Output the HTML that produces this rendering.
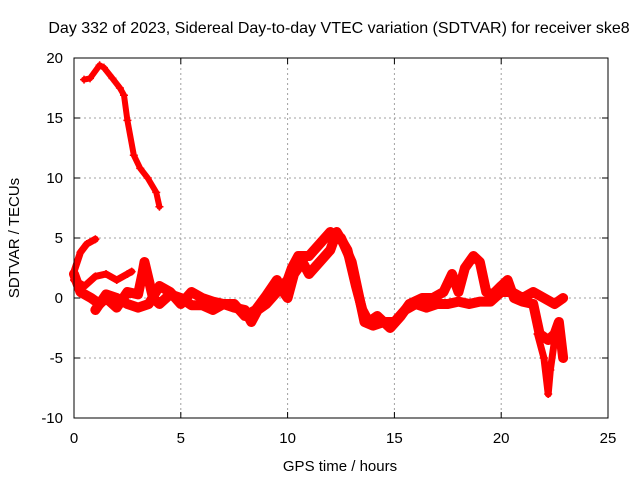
<!DOCTYPE html>
<html><head><meta charset="utf-8"><style>
body{margin:0;background:#fff;}
svg{display:block;font-family:"Liberation Sans",sans-serif;}
</style></head><body>
<svg id="chart" width="640" height="480">
<text x="339" y="33" font-size="16" text-anchor="middle">Day 332 of 2023, Sidereal Day-to-day VTEC variation (SDTVAR) for receiver ske8</text>
<text x="340" y="471" font-size="15" text-anchor="middle">GPS time / hours</text>
<text x="19" y="238" font-size="15" text-anchor="middle" transform="rotate(-90 19 238)">SDTVAR / TECUs</text>
<g id="grid"></g><g id="marks"></g><g id="axes"></g>
</svg>
<script>
const xTicks=[0,5,10,15,20,25];
const yTicks=[-10,-5,0,5,10,15,20];
const seriesTop=[[0.47,18.2],[0.75,18.3],[1.2,19.4],[1.4,19.2],[1.8,18.3],[2.15,17.5],[2.34,16.9],[2.5,14.8],[2.8,11.9],[3.1,10.8],[3.45,10],[3.85,8.8],[4.0,7.6]];
const track1=[[0,2.2],[0.3,3.8],[0.6,4.5],[1.0,4.9]];
const track2=[[0,1.5],[0.5,1],[1,1.8],[1.5,2],[2,1.5],[2.5,2],[2.7,2.2]];
const track3=[[0,2],[0.3,0.5],[0.8,0],[1.2,-0.5],[1.5,0],[2,-0.8],[2.5,0.5],[3,0.3],[3.2,2],[3.3,3],[3.5,1.5],[3.7,0],[4,-0.5],[4.5,0.3],[5,0],[5.5,-0.6],[6,-0.6],[6.5,-1],[7,-0.5],[7.5,-0.8],[8,-1],[8.3,-2],[8.6,-1],[9,-0.5],[9.5,0.5],[10,1.5],[10.2,2.5],[10.5,3.5],[11,3.5],[11.5,4.5],[12,5.5],[12.5,5],[13,3],[13.3,0.5],[13.6,-2],[14,-2.3],[14.5,-2],[15,-2],[15.5,-1],[16,-0.5],[16.5,-0.8],[17,-0.5],[17.5,-0.5],[18,-0.3],[18.5,-0.5],[19,-0.3],[19.5,-0.3],[20,0.5],[20.5,0.5],[21,0],[21.5,0.5],[22,0],[22.5,-0.5],[22.9,0]];
const track4=[[1,-1],[1.5,0.3],[2,0],[2.5,-0.5],[3,-0.8],[3.5,-0.5],[4,1],[4.5,0.5],[5,-0.5],[5.5,0.5],[6,0],[6.5,-0.3],[7,-0.5],[7.5,-0.5],[8,-1.5],[8.5,-1],[9,0.2],[9.5,1.5],[9.8,0.5],[10,0],[10.3,2],[10.7,3],[11,2],[11.5,3],[12,4],[12.3,5.5],[12.8,4],[13.2,1],[13.5,-1],[13.8,-2],[14.2,-1.5],[14.8,-2.5],[15.3,-1.5],[15.7,-0.5],[16.3,0],[16.8,0],[17.3,0.5],[17.7,2],[18,0.5],[18.3,2.5],[18.7,3.5],[19,3],[19.3,0.5],[19.6,0.3],[20,1],[20.3,1.5],[20.6,0],[21,-0.3],[21.5,-0.5],[21.8,-3],[22.2,-3.5],[22.5,-3],[22.7,-2],[22.9,-5]];
const track5=[[21.7,-3],[22,-5],[22.2,-8],[22.3,-6],[22.5,-3.5]];
const allSeries=[seriesTop,track1,track2,track3,track4,track5];
const widths=[6,7,7,10,10,7];
const X0=74,X1=608,Y0=418,Y1=58;
const xs=v=>X0+(v-0)/25*(X1-X0);
const ys=v=>Y0-(v+10)/30*(Y0-Y1);
const NS="http://www.w3.org/2000/svg";
function mk(t,a,p){const e=document.createElementNS(NS,t);for(const k in a)e.setAttribute(k,a[k]);p.appendChild(e);return e;}
const grid=document.getElementById('grid'),axes=document.getElementById('axes'),marks=document.getElementById('marks');
xTicks.forEach(t=>{const x=xs(t);
 if(t>0&&t<25){const g=mk('line',{x1:x,x2:x,y1:Y1,y2:Y0,stroke:'#a0a0a0','stroke-dasharray':'2,3'},grid);
 
 }
 mk('line',{x1:x,x2:x,y1:Y0,y2:Y0-6,stroke:'#000'},axes);
 mk('line',{x1:x,x2:x,y1:Y1,y2:Y1+6,stroke:'#000'},axes);
 const l=mk('text',{x:x,y:Y0+25,'font-size':15,'text-anchor':'middle'},axes);l.textContent=t;
 
 });
yTicks.forEach(t=>{const y=ys(t);
 if(t>-10&&t<20){const g=mk('line',{x1:X0,x2:X1,y1:y,y2:y,stroke:'#a0a0a0','stroke-dasharray':'2,3'},grid);
 
 }
 mk('line',{x1:X0,x2:X0+6,y1:y,y2:y,stroke:'#000'},axes);
 mk('line',{x1:X1,x2:X1-6,y1:y,y2:y,stroke:'#000'},axes);
 const l=mk('text',{x:X0-11,y:y+5,'font-size':15,'text-anchor':'end'},axes);l.textContent=t;
 
 });
const fr=mk('rect',{x:X0,y:Y1,width:X1-X0,height:Y0-Y1,fill:'none',stroke:'#000'},axes);


allSeries.forEach((s,i)=>{
 const pl=mk('polyline',{points:s.map(p=>xs(p[0])+','+ys(p[1])).join(' '),fill:'none',stroke:'#ff0000','stroke-width':widths[i],'stroke-linejoin':'round','stroke-linecap':'round'},marks);
 
 
 s.forEach(p=>{const x=xs(p[0]),y=ys(p[1]);
  const m=mk('path',{d:`M${x-4},${y}H${x+4}M${x},${y-4}V${y+4}`,stroke:'#ff0000','stroke-width':1.5},marks);
  
  });
});
</script>
</body></html>
